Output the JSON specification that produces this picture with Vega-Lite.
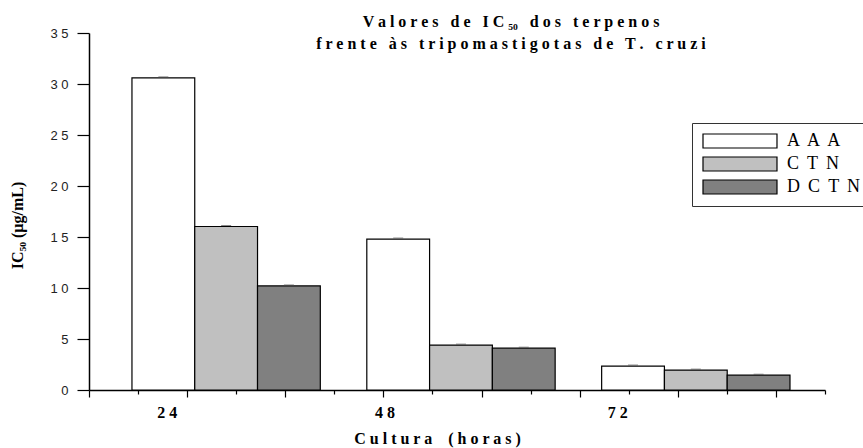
{
  "$schema": "https://vega.github.io/schema/vega-lite/v6.json",
  "width": 736,
  "height": 357,
  "autosize": {"type": "none"},
  "padding": {"left": 89, "top": 33, "right": 38, "bottom": 58},
  "background": "white",
  "config": {"view": {"stroke": null}, "font": "Liberation Serif"},
  "title": {
    "text": "V a l o r e s \u00a0 d e \u00a0 I C ₅₀ \u00a0 d o s \u00a0 t e r p e n o s",
    "subtitle": "f r e n t e \u00a0 à s \u00a0 t r i p o m a s t i g o t a s \u00a0 d e \u00a0 T . \u00a0 c r u z i",
    "anchor": "middle",
    "frame": "group",
    "dx": 54,
    "offset": -25,
    "font": "Liberation Serif",
    "fontSize": 16,
    "fontWeight": "bold",
    "color": "black",
    "subtitleFont": "Liberation Serif",
    "subtitleFontSize": 16,
    "subtitleFontWeight": "bold",
    "subtitleColor": "black",
    "subtitlePadding": 6
  },
  "data": {
    "values": [
      {"hora": "24", "grupo": "AAA", "valor": 30.6},
      {"hora": "24", "grupo": "CTN", "valor": 16.03},
      {"hora": "24", "grupo": "DCTN", "valor": 10.2},
      {"hora": "48", "grupo": "AAA", "valor": 14.8},
      {"hora": "48", "grupo": "CTN", "valor": 4.4},
      {"hora": "48", "grupo": "DCTN", "valor": 4.1},
      {"hora": "72", "grupo": "AAA", "valor": 2.35},
      {"hora": "72", "grupo": "CTN", "valor": 1.95},
      {"hora": "72", "grupo": "DCTN", "valor": 1.45}
    ]
  },
  "layer": [
    {
      "mark": {"type": "bar", "stroke": "black", "strokeWidth": 1.2},
      "encoding": {
        "x": {
          "field": "hora", "type": "nominal", "sort": ["24", "48", "72"],
          "scale": {"paddingInner": 0.198, "paddingOuter": 0.166, "align": 0.551},
          "axis": {
            "title": "C u l t u r a \u00a0 \u00a0( h o r a s )",
            "orient": "bottom",
            "ticks": false,
            "tickSize": 0,
            "domain": false,
            "grid": false,
            "labelAngle": 0,
            "labelFont": "Liberation Serif",
            "labelFontSize": 16,
            "labelFontWeight": "bold",
            "labelColor": "black",
            "labelBaseline": "alphabetic",
            "labelPadding": 27,
            "labelExpr": "join(split(datum.label, ''), ' ')",
            "labelOffset": {"condition": [{"test": "datum.value == '24'", "value": -59}, {"test": "datum.value == '48'", "value": -76}], "value": -78},
            "titleFont": "Liberation Serif",
            "titleFontSize": 16,
            "titleFontWeight": "bold",
            "titleColor": "black",
            "titleX": 348,
            "titleY": 53,
            "titleBaseline": "alphabetic",
            "titleAlign": "center"
          }
        },
        "xOffset": {"field": "grupo", "type": "nominal", "sort": ["AAA", "CTN", "DCTN"], "scale": {"paddingInner": 0, "paddingOuter": 0}},
        "y": {
          "field": "valor", "type": "quantitative",
          "scale": {"domain": [0, 35], "nice": false, "zero": true},
          "axis": {
            "title": "IC₅₀ (µg/mL)",
            "values": [0, 2.5, 5, 7.5, 10, 12.5, 15, 17.5, 20, 22.5, 25, 27.5, 30, 32.5, 35],
            "tickSize": {"condition": {"test": "datum.value % 5 != 0", "value": 6}, "value": 12},
            "labelExpr": "datum.value % 5 == 0 ? join(split(datum.label, ''), ' ') : ''",
            "labelFont": "Liberation Sans",
            "labelFontSize": 13,
            "labelColor": "#222",
            "labelPadding": 9,
            "labelOverlap": false,
            "domainColor": "black",
            "domainWidth": 1.5,
            "tickColor": "black",
            "tickWidth": 1.2,
            "grid": false,
            "titleFont": "Liberation Serif",
            "titleFontSize": 16,
            "titleFontWeight": "bold",
            "titleColor": "black",
            "titleAngle": -90,
            "titleX": -64,
            "titleY": 192,
            "titleBaseline": "bottom",
            "titleAlign": "center"
          }
        },
        "fill": {
          "field": "grupo", "type": "nominal", "sort": ["AAA", "CTN", "DCTN"],
          "scale": {"domain": ["AAA", "CTN", "DCTN"], "range": ["#FFFFFF", "#C0C0C0", "#808080"]},
          "legend": {
            "orient": "none",
            "legendX": 603,
            "legendY": 90,
            "title": null,
            "strokeColor": "#333",
            "padding": 9,
            "symbolType": "M-1,-1H9.57V1H-1Z",
            "symbolSize": 196,
            "symbolStrokeColor": "black",
            "symbolStrokeWidth": 1.2,
            "symbolOpacity": 1,
            "labelFont": "Liberation Serif",
            "labelFontSize": 18,
            "labelColor": "black",
            "labelOffset": 68,
            "rowPadding": 3,
            "labelExpr": "join(split(datum.label, ''), ' \u2009')"
          }
        }
      }
    },
    {
      "mark": {"type": "tick", "color": "#555", "thickness": 1, "size": 10, "yOffset": -1},
      "encoding": {
        "x": {"field": "hora", "type": "nominal", "sort": ["24", "48", "72"], "scale": {"paddingInner": 0.198, "paddingOuter": 0.166, "align": 0.551}, "axis": null},
        "xOffset": {"field": "grupo", "type": "nominal", "sort": ["AAA", "CTN", "DCTN"], "scale": {"paddingInner": 0, "paddingOuter": 0}},
        "y": {"field": "valor", "type": "quantitative"}
      }
    },
    {
      "mark": {"type": "rule", "opacity": 0},
      "encoding": {
        "x": {
          "datum": 0, "type": "quantitative",
          "scale": {"domain": [0, 15], "nice": false, "zero": false},
          "axis": {
            "orient": "bottom",
            "values": [0, 1, 2, 3, 4, 5, 6, 7, 8, 9, 10, 11, 12, 13, 14, 15],
            "labels": false,
            "title": null,
            "grid": false,
            "domain": true,
            "domainColor": "black",
            "domainWidth": 1.5,
            "tickColor": "black",
            "tickWidth": 1.2,
            "tickSize": {"condition": {"test": "datum.value % 2 == 0", "value": 7}, "value": 4}
          }
        }
      }
    }
  ],
  "resolve": {"scale": {"x": "independent"}}
}
